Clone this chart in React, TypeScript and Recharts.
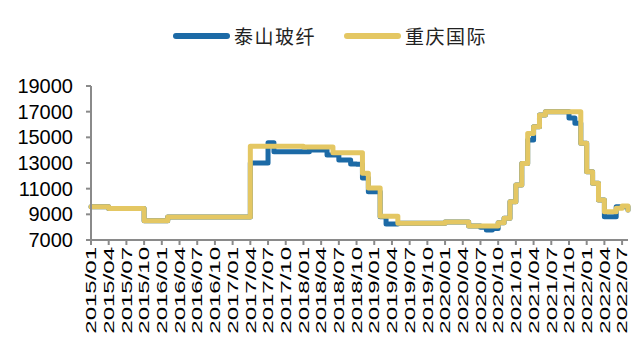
import React from 'react'
import { LineChart, Line, XAxis, YAxis } from 'recharts'

// month index 0 = 2015/01 ... 91 = 2022/08
const TICK_LABELS = [
  '2015/01', '2015/04', '2015/07', '2015/10',
  '2016/01', '2016/04', '2016/07', '2016/10',
  '2017/01', '2017/04', '2017/07', '2017/10',
  '2018/01', '2018/04', '2018/07', '2018/10',
  '2019/01', '2019/04', '2019/07', '2019/10',
  '2020/01', '2020/04', '2020/07', '2020/10',
  '2021/01', '2021/04', '2021/07', '2021/10',
  '2022/01', '2022/04', '2022/07',
]

// 泰山玻纤
const TAISHAN = [
  9600, 9600, 9600, 9450, 9450, 9450, 9450, 9450, 9450, 8500, 8500, 8500,
  8500, 8800, 8800, 8800, 8800, 8800, 8800, 8800, 8800, 8800, 8800, 8800,
  8800, 8800, 8800, 13000, 13000, 13000, 14580, 13880, 13880, 13880, 13880, 13880,
  13880, 14010, 14010, 14010, 13620, 13620, 13230, 13230, 12920, 12900, 11830, 10760,
  10760, 8820, 8250, 8250, 8300, 8300, 8300, 8300, 8300, 8300, 8300, 8300,
  8400, 8400, 8400, 8400, 8100, 8100, 8000, 7780, 7900, 8350, 8700, 9990,
  11280, 12970, 14800, 15830, 16740, 17000, 17000, 17000, 17000, 16500, 16100, 14530,
  12320, 11420, 10120, 8820, 8820, 9600, 9600, 9340,
]

// 重庆国际
const CHONGQING = [
  9600, 9600, 9600, 9450, 9450, 9450, 9450, 9450, 9450, 8500, 8500, 8500,
  8500, 8800, 8800, 8800, 8800, 8800, 8800, 8800, 8800, 8800, 8800, 8800,
  8800, 8800, 8800, 14300, 14300, 14300, 14300, 14300, 14300, 14300, 14300, 14300,
  14250, 14250, 14250, 14250, 14250, 13800, 13800, 13800, 13800, 13800, 12200, 11050,
  11050, 8850, 8850, 8850, 8300, 8300, 8300, 8300, 8300, 8300, 8300, 8300,
  8400, 8400, 8400, 8400, 8100, 8100, 8100, 8100, 8100, 8350, 8700, 9990,
  11280, 12970, 15300, 15830, 16740, 17000, 17000, 17000, 17000, 17000, 17000, 14530,
  12320, 11420, 10120, 9210, 9210, 9470, 9650, 9340,
]

const Y_TICKS = [7000, 9000, 11000, 13000, 15000, 17000, 19000]

const BLUE = '#1c6aa6'
const GOLD = '#e4c763'
const AXIS = '#8a8a8a'

const data = TAISHAN.map((v, i) => ({ m: i, ts: v, cq: CHONGQING[i] }))
const xTicks = TICK_LABELS.map((_, i) => i * 3)

const XTick = (props: any) => {
  const { x, y, payload } = props
  const label = TICK_LABELS[Math.round(payload.value / 3)]
  return (
    <text
      transform={`translate(${x},${y}) rotate(-90) scale(1,0.62)`}
      textAnchor="end"
      dominantBaseline="central"
      fontSize={24}
      fontFamily="'Liberation Sans', Arial, sans-serif"
      fill="#000"
    >
      {label}
    </text>
  )
}

const LegendItem = ({ color, label }: { color: string; label: string }) => (
  <div style={{ display: 'flex', alignItems: 'center', marginRight: 28 }}>
    <div style={{ width: 57, height: 6, borderRadius: 3, background: color }} />
    <span style={{ marginLeft: 4, fontSize: 19, letterSpacing: 1.5, color: '#222' }}>{label}</span>
  </div>
)

export default function App() {
  return (
    <div
      style={{
        position: 'absolute',
        left: 0,
        top: 0,
        width: 641,
        height: 351,
        background: '#fff',
        fontFamily: "'Noto Sans CJK SC', sans-serif",
      }}
    >
      {/* legend */}
      <div style={{ position: 'absolute', left: 173, top: 22, display: 'flex' }}>
        <LegendItem color={BLUE} label="泰山玻纤" />
        <LegendItem color={GOLD} label="重庆国际" />
      </div>

      <LineChart width={641} height={351} data={data} margin={{ top: 86, right: 13, bottom: 11, left: 1 }}>
        <XAxis
          dataKey="m"
          type="number"
          domain={[0, 91]}
          ticks={xTicks}
          interval={0}
          height={100}
          stroke={AXIS}
          strokeWidth={2}
          tickSize={5}
          tick={<XTick />}
        />
        <YAxis
          domain={[7000, 19000]}
          ticks={Y_TICKS}
          interval={0}
          width={90}
          stroke={AXIS}
          strokeWidth={2}
          tickSize={5}
          tickMargin={13}
          tick={{ fill: '#000', fontSize: 20, fontFamily: "'Liberation Sans', Arial, sans-serif" }}
        />
        <Line
          type="stepAfter"
          dataKey="ts"
          stroke={BLUE}
          strokeWidth={5}
          strokeLinejoin="round"
          strokeLinecap="round"
          dot={false}
          isAnimationActive={false}
        />
        <Line
          type="stepAfter"
          dataKey="cq"
          stroke={GOLD}
          strokeWidth={5}
          strokeLinejoin="round"
          strokeLinecap="round"
          dot={false}
          isAnimationActive={false}
        />
      </LineChart>
    </div>
  )
}
